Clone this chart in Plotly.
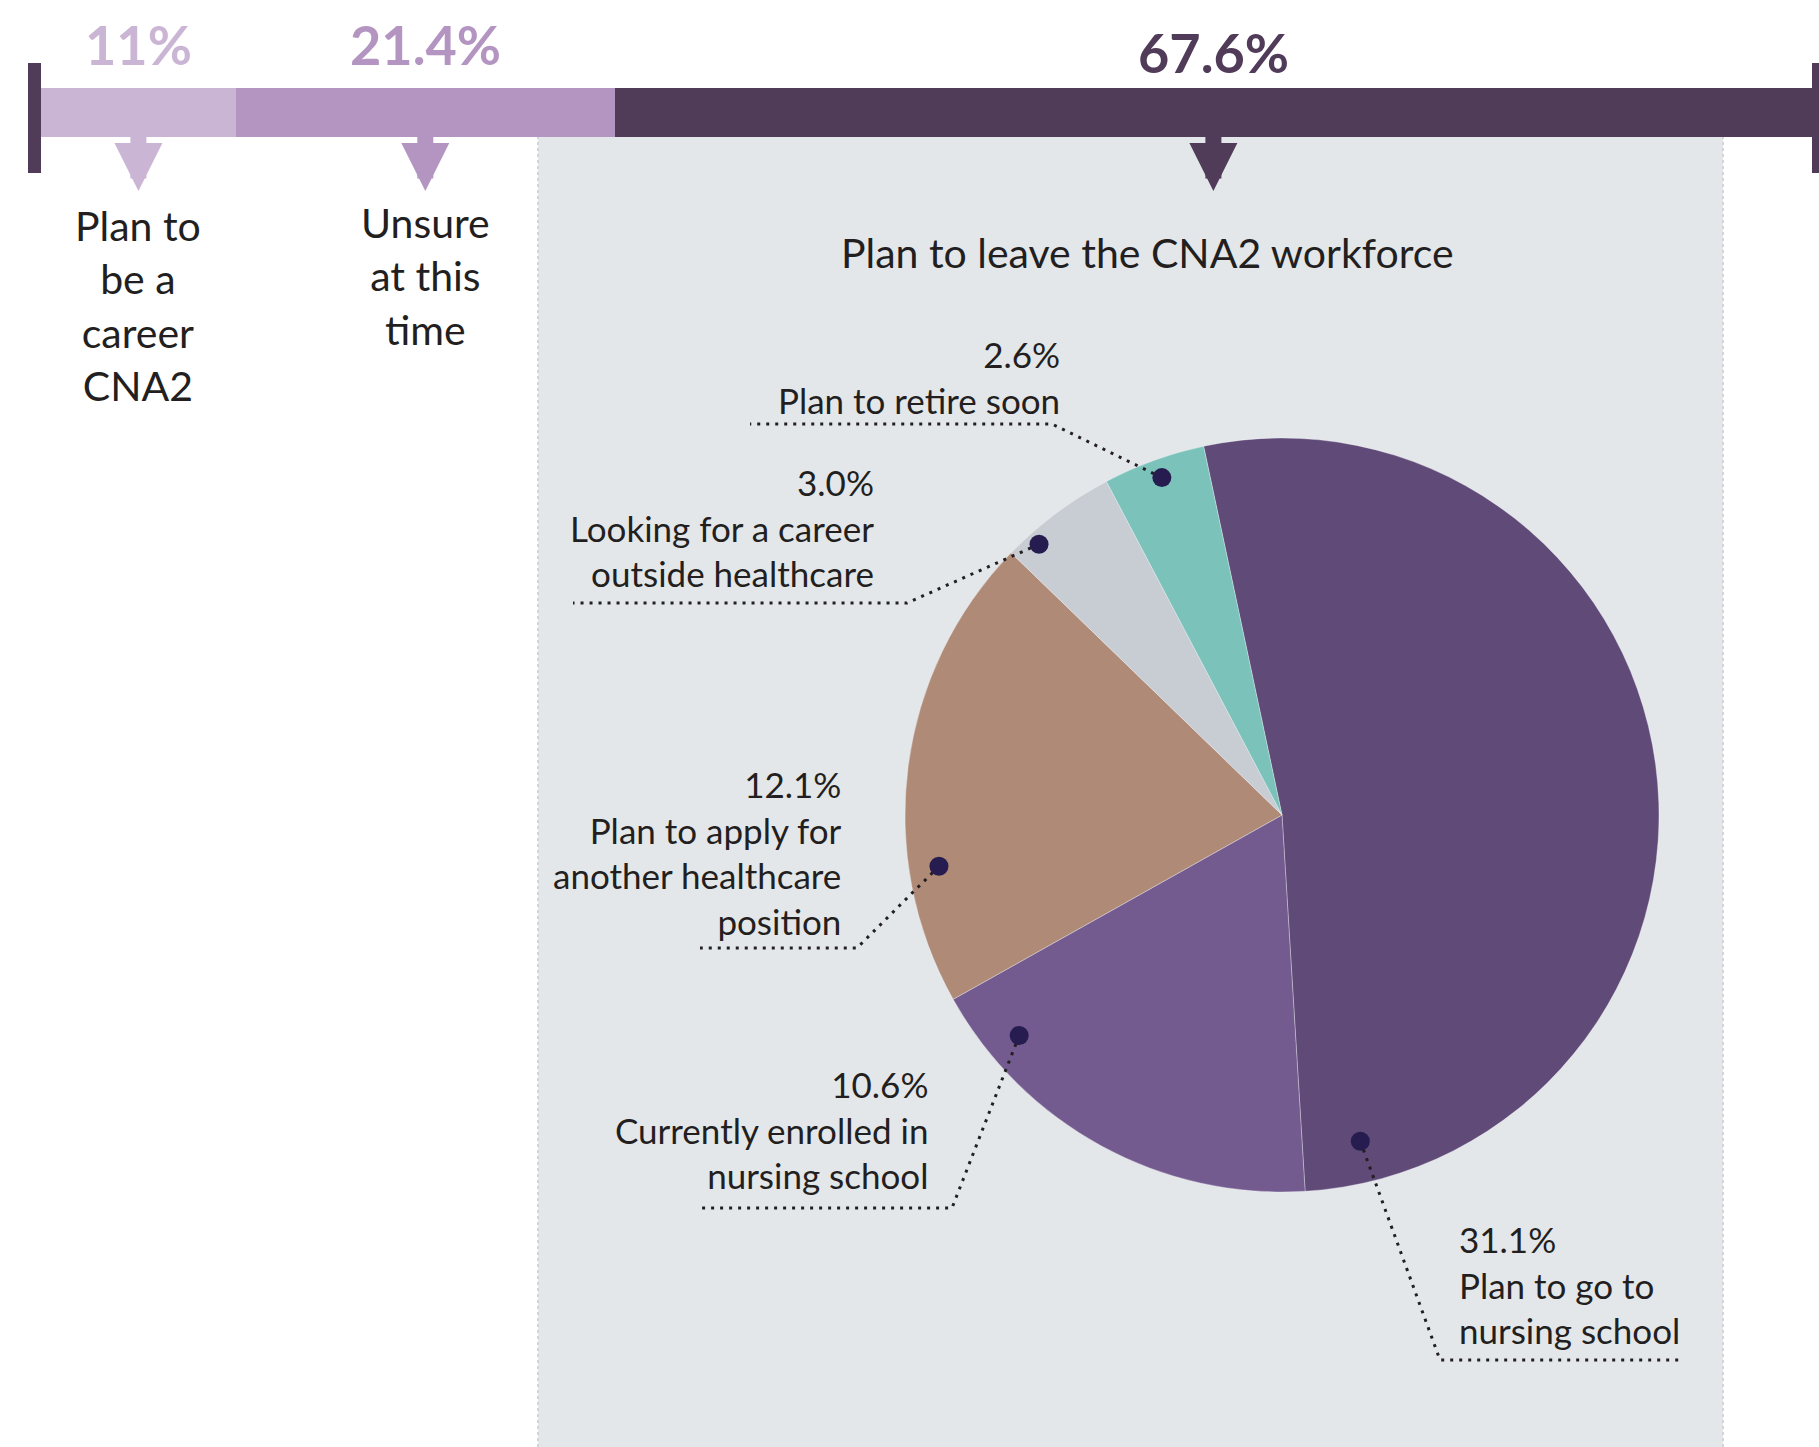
import math
import plotly.graph_objects as go

# ---------------- data ----------------
bar_labels = ["Plan to<br>be a<br>career<br>CNA2", "Unsure<br>at this<br>time",
              "Plan to leave the CNA2 workforce"]
bar_values = [11, 21.4, 67.6]
bar_colors = ["#cab5d4", "#b495c1", "#503b58"]

pie_labels = ["Plan to go to<br>nursing school",
              "Currently enrolled in<br>nursing school",
              "Plan to apply for<br>another healthcare<br>position",
              "Looking for a career<br>outside healthcare",
              "Plan to retire soon"]
pie_values = [31.1, 10.6, 12.1, 3.0, 2.6]
pie_colors = ["#5f4a78", "#735a8f", "#ae8a77", "#c8ccd3", "#7bc2bb"]

# ---------------- layout helpers ----------------
W, H = 1819, 1447
FONT = "Lato, 'Open Sans', sans-serif"
TEXT = "#231f20"


def px(x):
    return x / W


def py(y):
    return 1 - y / H


BAR_X0, BAR_X1 = 41, 1812
BAR_TOP, BAR_BOT = 88, 137
PIE_CX, PIE_CY, PIE_R = 1282, 815, 377
PCT_Y = [45, 44, 52]          # vertical pixel position of the percent labels

fig = go.Figure()

# stacked bar
for lab, v, c in zip(bar_labels, bar_values, bar_colors):
    fig.add_trace(go.Bar(x=[v], y=[0], orientation="h", width=1,
                         marker=dict(color=c, line=dict(width=0)),
                         hoverinfo="skip", showlegend=False))

# pie
fig.add_trace(go.Pie(values=pie_values, labels=pie_labels, sort=False,
                     direction="clockwise", rotation=-12,
                     marker=dict(colors=pie_colors,
                                 line=dict(color="rgba(255,255,255,0.4)", width=0.8)),
                     textinfo="none", hoverinfo="skip", showlegend=False,
                     domain=dict(x=[px(PIE_CX - PIE_R), px(PIE_CX + PIE_R)],
                                 y=[py(PIE_CY + PIE_R), py(PIE_CY - PIE_R)])))

shapes = []
annotations = []

# grey panel behind the pie
PANEL_L, PANEL_R = 538, 1723
shapes.append(dict(type="rect", xref="paper", yref="paper", layer="below",
                   x0=px(PANEL_L), x1=px(PANEL_R), y0=0, y1=py(BAR_BOT),
                   fillcolor="#e4e7ea", line=dict(width=0)))
for xx in (PANEL_L, PANEL_R):
    shapes.append(dict(type="line", xref="paper", yref="paper", layer="below",
                       x0=px(xx), x1=px(xx), y0=0, y1=py(BAR_BOT),
                       line=dict(color="#d3d5da", width=2, dash="dot")))

# end caps of the bar
shapes.append(dict(type="rect", xref="paper", yref="paper",
                   x0=px(BAR_X0 - 13), x1=px(BAR_X0), y0=py(173), y1=py(63),
                   fillcolor="#503b58", line=dict(width=0)))
shapes.append(dict(type="rect", xref="paper", yref="paper",
                   x0=px(BAR_X1), x1=px(BAR_X1 + 13), y0=py(173), y1=py(63),
                   fillcolor="#503b58", line=dict(width=0)))

# labels, arrows for bar segments
start = 0
for i, (lab, v, c) in enumerate(zip(bar_labels, bar_values, bar_colors)):
    center = start + v / 2
    start += v
    annotations.append(dict(x=center, xref="x", y=py(PCT_Y[i]), yref="paper",
                            text=f"{v:g}%", showarrow=False,
                            xanchor="center", yanchor="middle",
                            font=dict(family=FONT, size=54, color=c, weight="bold")))
    annotations.append(dict(x=center, xref="x", y=py(191), yref="paper",
                            text="", showarrow=True, ax=0, ay=-70,
                            arrowhead=2, arrowwidth=16, arrowsize=0.6,
                            arrowcolor=c, standoff=0, font=dict(size=1)))
    if i < 2:
        annotations.append(dict(x=center, xref="x", y=py(305 if i == 0 else 276),
                                yref="paper", text=lab, showarrow=False,
                                xanchor="center", yanchor="middle", align="center",
                                font=dict(family=FONT, size=41, color=TEXT)))
    else:
        annotations.append(dict(x=px(1147), xref="paper", y=py(253), yref="paper",
                                text=lab, showarrow=False,
                                xanchor="center", yanchor="middle",
                                font=dict(family=FONT, size=41, color=TEXT)))

# pie call-outs: dot angle (deg clockwise from 12 o'clock), radius fraction,
# elbow point, end point, text anchor
callouts = [
    dict(ang=166.5, rf=0.89, elbow=(1440, 1360), end=(1680, 1360),
         tx=1457, ty=1284, anchor="left"),
    dict(ang=230.0, rf=0.91, elbow=(952, 1208), end=(702, 1208),
         tx=930, ty=1129, anchor="right"),
    dict(ang=261.5, rf=0.92, elbow=(857, 948), end=(700, 948),
         tx=844, ty=852, anchor="right"),
    dict(ang=318.1, rf=0.965, elbow=(907, 603), end=(573, 603),
         tx=876, ty=528, anchor="right"),
    dict(ang=340.4, rf=0.95, elbow=(1052, 424), end=(750, 424),
         tx=1062, ty=377, anchor="right"),
]

dots = []
for co, lab, v in zip(callouts, pie_labels, pie_values):
    a = math.radians(co["ang"])
    dx = PIE_CX + PIE_R * co["rf"] * math.sin(a)
    dy = PIE_CY - PIE_R * co["rf"] * math.cos(a)
    ex, ey = co["elbow"]
    fx, fy = co["end"]
    shapes.append(dict(type="path", xref="paper", yref="paper",
                       path=f"M {px(dx)},{py(dy)} L {px(ex)},{py(ey)} L {px(fx)},{py(fy)}",
                       line=dict(color=TEXT, width=3, dash="3px,6px")))
    dots.append((dx, dy))
    annotations.append(dict(x=px(co["tx"]), xref="paper", y=py(co["ty"]), yref="paper",
                            text=f"{v:.1f}%<br>{lab}", showarrow=False,
                            xanchor=co["anchor"], yanchor="middle", align=co["anchor"],
                            font=dict(family=FONT, size=35, color=TEXT)))

for dx, dy in dots:
    shapes.append(dict(type="circle", xref="paper", yref="paper",
                       xsizemode="pixel", ysizemode="pixel",
                       xanchor=px(dx), yanchor=py(dy),
                       x0=-9.5, x1=9.5, y0=-9.5, y1=9.5,
                       fillcolor="#261c50", line=dict(width=0)))

fig.update_layout(
    width=W, height=H,
    margin=dict(l=0, r=0, t=0, b=0, pad=0),
    paper_bgcolor="white", plot_bgcolor="rgba(0,0,0,0)",
    barmode="stack", bargap=0, showlegend=False,
    xaxis=dict(domain=[px(BAR_X0), px(BAR_X1)], range=[0, 100], visible=False,
               fixedrange=True),
    yaxis=dict(domain=[py(BAR_BOT), py(BAR_TOP)], range=[-0.5, 0.5], visible=False,
               fixedrange=True),
    shapes=shapes, annotations=annotations,
    font=dict(family=FONT, color=TEXT),
)

fig.write_html("out.html", config={"displayModeBar": False},
               post_script="document.body.style.margin='0';")
